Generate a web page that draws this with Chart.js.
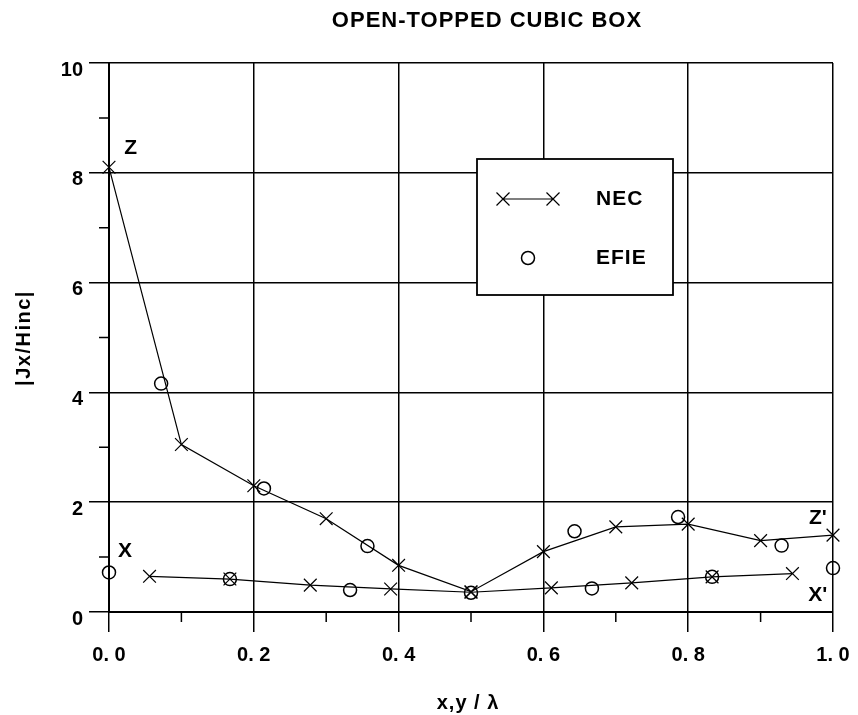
<!DOCTYPE html>
<html>
<head>
<meta charset="utf-8">
<title>Open-topped cubic box</title>
<script src="https://cdn.jsdelivr.net/npm/chart.js@4.4.1/dist/chart.umd.min.js"></script>
<style>
    html, body { margin: 0; padding: 0; background: #fff; }
    #wrap { width: 858px; height: 715px; }
</style>
</head>
<body>
<div id="wrap"><canvas id="chart" width="858" height="715"></canvas></div>
<script>
// ─── DATA ─────────────────────────────────────────────────
// NEC, upper branch (Z → Z')
const necZx = [0.0, 0.1, 0.2, 0.3, 0.4, 0.5, 0.6, 0.7, 0.8, 0.9, 1.0];
const necZy = [8.1, 3.05, 2.3, 1.7, 0.85, 0.37, 1.1, 1.55, 1.6, 1.3, 1.4];
// NEC, lower branch (X → X')
const necXx = [0.056, 0.167, 0.278, 0.389, 0.5, 0.611, 0.722, 0.833, 0.944];
const necXy = [0.65, 0.6, 0.49, 0.42, 0.36, 0.44, 0.53, 0.64, 0.7];
// EFIE circles
const efieZx = [0.072, 0.214, 0.357, 0.5, 0.643, 0.786, 0.929];
const efieZy = [4.16, 2.25, 1.2, 0.35, 1.47, 1.73, 1.21];
const efieXx = [0.0, 0.167, 0.333, 0.667, 0.833, 1.0];
const efieXy = [0.72, 0.6, 0.4, 0.43, 0.64, 0.8];

const xMinorTicks = [0.1, 0.3, 0.5, 0.7, 0.9];
const yMinorTicks = [1, 3, 5, 7, 9];

const curveLabels = ['Z', 'X', "Z'", "X'"];
const curveLabelAt = [[0.03, 8.44], [0.022, 1.1], [0.979, 1.71], [0.979, 0.3]];

// ─── STYLE ────────────────────────────────────────────────
const FONT = "'Liberation Sans', Arial, Helvetica, sans-serif";
const INK = '#000';

const pts = (xs, ys) => xs.map((x, i) => ({ x, y: ys[i] }));

function necSet(xs, ys) {
    return {
        label: 'NEC',
        data: pts(xs, ys),
        showLine: true,
        borderColor: INK,
        borderWidth: 1.2,
        pointStyle: 'crossRot',
        pointRadius: 9,
        pointBorderWidth: 1.2,
        pointBorderColor: INK,
        tension: 0,
        clip: false,
    };
}

function efieSet(xs, ys) {
    return {
        label: 'EFIE',
        data: pts(xs, ys),
        showLine: false,
        pointStyle: 'circle',
        pointRadius: 6.5,
        pointBorderWidth: 1.5,
        pointBorderColor: INK,
        pointBackgroundColor: 'rgba(0,0,0,0)',
        clip: false,
    };
}

// ─── PLUGIN: minor ticks, titles, labels, legend box ─────
const decor = {
    id: 'decor',
    afterDraw(chart) {
        const { ctx, chartArea: a, scales: { x, y } } = chart;
        ctx.save();
        ctx.strokeStyle = INK;
        ctx.lineWidth = 1.5;

        // minor ticks
        ctx.beginPath();
        xMinorTicks.forEach(v => {
            const px = x.getPixelForValue(v);
            ctx.moveTo(px, a.bottom); ctx.lineTo(px, a.bottom + 10);
        });
        yMinorTicks.forEach(v => {
            const py = y.getPixelForValue(v);
            ctx.moveTo(a.left, py); ctx.lineTo(a.left - 10, py);
        });
        ctx.stroke();

        ctx.fillStyle = INK;
        ctx.textAlign = 'center';
        ctx.textBaseline = 'middle';

        // titles
        ctx.letterSpacing = '1px';
        ctx.font = `bold 22px ${FONT}`;
        ctx.fillText('OPEN-TOPPED CUBIC BOX', 487, 21);
        ctx.font = `bold 20px ${FONT}`;
        ctx.fillText('x,y / λ', 468, 703);
        ctx.save();
        ctx.translate(24, 338);
        ctx.rotate(-Math.PI / 2);
        ctx.letterSpacing = '1.5px';
        ctx.font = `bold 20px ${FONT}`;
        ctx.fillText('|Jx/Hinc|', 0, 0);
        ctx.restore();

        // curve end labels
        ctx.letterSpacing = '0px';
        ctx.font = `bold 21px ${FONT}`;
        curveLabels.forEach((t, i) => {
            ctx.fillText(t, x.getPixelForValue(curveLabelAt[i][0]), y.getPixelForValue(curveLabelAt[i][1]));
        });

        // legend box
        const bx = 477, by = 159, bw = 196, bh = 136;
        ctx.fillStyle = '#fff';
        ctx.fillRect(bx, by, bw, bh);
        ctx.lineWidth = 1.8;
        ctx.strokeRect(bx, by, bw, bh);

        const cross = (cx, cy, r) => {
            ctx.moveTo(cx - r, cy - r); ctx.lineTo(cx + r, cy + r);
            ctx.moveTo(cx - r, cy + r); ctx.lineTo(cx + r, cy - r);
        };
        ctx.lineWidth = 1.2;
        ctx.beginPath();
        ctx.moveTo(503, 199); ctx.lineTo(553, 199);
        cross(503, 199, 6.5);
        cross(553, 199, 6.5);
        ctx.stroke();

        ctx.lineWidth = 1.5;
        ctx.beginPath();
        ctx.arc(528, 258, 6.5, 0, Math.PI * 2);
        ctx.stroke();

        ctx.fillStyle = INK;
        ctx.textAlign = 'left';
        ctx.letterSpacing = '1px';
        ctx.font = `bold 21px ${FONT}`;
        ctx.fillText('NEC', 596, 199);
        ctx.fillText('EFIE', 596, 258);
        ctx.restore();
    },
};

// ─── CHART ────────────────────────────────────────────────
const axisGrid = {
    color: INK,
    lineWidth: 1.5,
    tickColor: INK,
    tickWidth: 1.5,
    tickLength: 20,
};

new Chart(document.getElementById('chart'), {
    type: 'scatter',
    data: {
        datasets: [
            necSet(necZx, necZy),
            necSet(necXx, necXy),
            efieSet(efieZx, efieZy),
            efieSet(efieXx, efieXy),
        ],
    },
    options: {
        responsive: false,
        animation: false,
        layout: { padding: { top: 63, right: 25, left: 0, bottom: 0 } },
        plugins: { legend: { display: false }, tooltip: { enabled: false } },
        scales: {
            x: {
                type: 'linear',
                min: 0, max: 1,
                afterFit: (s) => { s.height = 103; s.paddingLeft = 0; s.paddingRight = 0; },
                grid: axisGrid,
                border: { color: INK, width: 2 },
                ticks: {
                    stepSize: 0.2,
                    padding: 11,
                    color: INK,
                    font: { family: FONT, size: 20, weight: 'bold' },
                    callback: (v) => v.toFixed(1).replace('.', '. '),
                },
            },
            y: {
                min: 0, max: 10,
                afterFit: (s) => { s.width = 109; s.paddingTop = 0; s.paddingBottom = 0; },
                grid: axisGrid,
                border: { color: INK, width: 2 },
                ticks: {
                    stepSize: 2,
                    padding: 6,
                    labelOffset: 7,
                    color: INK,
                    font: { family: FONT, size: 20, weight: 'bold' },
                },
            },
        },
    },
    plugins: [decor],
});
</script>
</body>
</html>
